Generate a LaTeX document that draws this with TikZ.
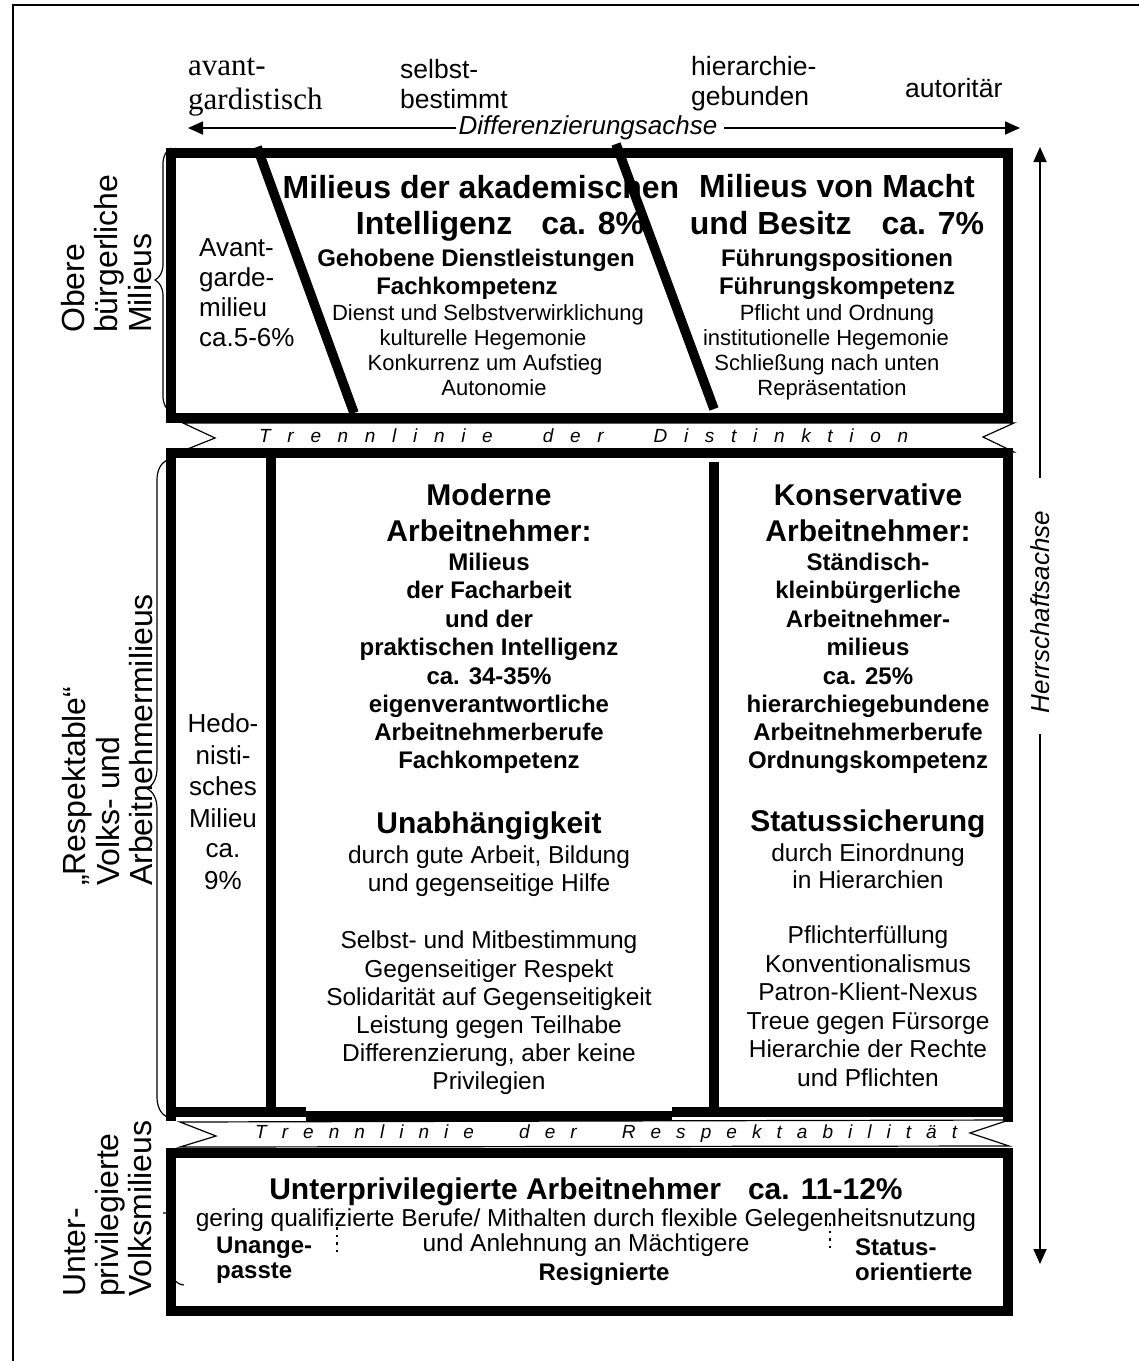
\documentclass[tikz,border=0pt]{standalone}
\usepackage{fontspec}
\setmainfont{Liberation Sans}
\newfontfamily\serifhead{Liberation Serif}
\usetikzlibrary{arrows.meta,decorations.pathreplacing}
\newcommand\setfs[2]{\fontsize{#1pt}{#2pt}\selectfont}
\begin{document}
\begin{tikzpicture}[x=1pt,y=-1pt,
  every node/.style={inner sep=0pt},
  thickb/.style={line width=9.5pt},
  thinl/.style={line width=1.2pt},
  axis/.style={line width=1.8pt, -{Triangle[length=15pt,width=13pt]}},
  bracestyle/.style={line width=1.2pt, decorate},
  T32/.style={anchor=base, font=\bfseries\setfs{32}{36}},
  B30/.style={anchor=base, font=\bfseries\setfs{30}{34}},
  B24/.style={anchor=base, font=\bfseries\setfs{24}{28}},
  B24w/.style={anchor=base west, font=\bfseries\setfs{24}{28}},
  N22/.style={anchor=base, font=\setfs{22}{25}},
  N245/.style={anchor=base, font=\setfs{24.5}{28}},
  N26/.style={anchor=base, font=\setfs{26}{30}},
  N26w/.style={anchor=base west, font=\setfs{26}{30}},
  H27/.style={anchor=base west, font=\setfs{26.5}{28}},
  S32/.style={anchor=base west, font=\serifhead\setfs{31}{32}},
  L32/.style={anchor=base west, rotate=90, font=\setfs{32}{34}},
  BT/.style={anchor=base west, font=\itshape\setfs{19}{22}},
  AX/.style={font=\itshape\setfs{26}{30}, inner xsep=2pt},
  dotsv/.style={line width=2.6pt, dash pattern=on 2.6pt off 5pt},
]
\useasboundingbox (0,0) rectangle (1139,1361);
% outer frame
\draw[line width=1.5pt] (13,1361) -- (13,5) -- (1139,5);

% header words
\node[S32] (ha1) at (188,75) {avant-};
\node[S32] (ha2) at (188,109) {gardistisch};
\node[H27] (hs1) at (400,78) {selbst-};
\node[H27] (hs2) at (400,108) {bestimmt};
\node[H27] (hh1) at (691,75) {hierarchie-};
\node[H27] (hh2) at (691,105) {gebunden};
\node[H27] (hau) at (905,97) {autorit\"ar};

% Differenzierungsachse
\coordinate (dl) at (188,128);
\coordinate (dr) at (1020,128);
\node[AX] (dach) at (588,128) {Differenzierungsachse};
\draw[axis] (dach.west |- dl) -- (dl);
\draw[axis] ([xshift=4pt]dach.east |- dr) -- (dr);

% Herrschaftsachse
\coordinate (ht) at (1040,147);
\coordinate (hb) at (1040,1264);
\coordinate (hg1) at (1040,478);
\coordinate (hg2) at (1040,734);
\node[AX, rotate=90] (hach) at (1040,612) {Herrschaftsachse};
\draw[axis] (hg1) -- (ht);
\draw[axis] (hg2) -- (hb);

% bands
\draw[thinl] (183,423) -- (1014,423) -- (983,437) -- (1014,452) -- (180,452) -- (215,438) -- cycle;
\draw[thinl] (180,1122) -- (1009,1120) -- (970,1133) -- (1009,1146) -- (180,1147) -- (216,1136) -- cycle;
\node[BT] (band1) at (259,442) {\hbox to 649pt{T\hfill r\hfill e\hfill n\hfill n\hfill l\hfill i\hfill n\hfill i\hfill e\hfill\hfill\hfill d\hfill e\hfill r\hfill\hfill\hfill D\hfill i\hfill s\hfill t\hfill i\hfill n\hfill k\hfill t\hfill i\hfill o\hfill n}};
\node[BT] (band2) at (255,1138) {\hbox to 702pt{T\hfill r\hfill e\hfill n\hfill n\hfill l\hfill i\hfill n\hfill i\hfill e\hfill\hfill\hfill d\hfill e\hfill r\hfill\hfill\hfill R\hfill e\hfill s\hfill p\hfill e\hfill k\hfill t\hfill a\hfill b\hfill i\hfill l\hfill i\hfill t\hfill \"a\hfill t}};

% braces
\draw[bracestyle, decoration={brace, amplitude=16pt}] (171,412) -- (171,148);
\draw[bracestyle, decoration={brace, amplitude=20pt}] (167,1117) -- (167,460);
\draw[line width=1.2pt] (184,1285) .. controls (176,1284) and (173,1280) .. (173,1272) -- (173,1222) .. controls (173,1215) and (169,1212) .. (163,1213);

% upper box
\draw[thickb] (171,153) rectangle (1008,418);
% middle box
\draw[thickb] (171,1121) -- (171,453) -- (1008,453) -- (1008,1122);
\draw[thickb] (171,1112) -- (306,1112);
\draw[thickb] (306,1116) -- (672,1116);
\draw[thickb] (672,1112) -- (1008,1112);
\draw[thickb] (271,453) -- (271,1112);
\draw[thickb] (714,462) -- (714,1112);
% lower box
\draw[thickb] (171,1153) rectangle (1008,1311);

% side labels
\node[L32] (lo1) at (84,333) {Obere};
\node[L32] (lo2) at (117,333) {b\"urgerliche};
\node[L32] (lo3) at (151,333) {Milieus};
\node[L32] (lr1) at (85,886) {\char"201E Respektable\char"201C};
\node[L32] (lr2) at (119,886) {Volks- und};
\node[L32] (lr3) at (152,886) {Arbeitnehmermilieus};
\node[L32] (lu1) at (85,1297) {Unter-};
\node[L32] (lu2) at (118,1297) {privilegierte};
\node[L32] (lu3) at (151,1297) {Volksmilieus};

% upper box texts
\node[N26w] (av1) at (199,256) {Avant-};
\node[N26w] (av2) at (199,286) {garde-};
\node[N26w] (av3) at (199,316) {milieu};
\node[N26w] (av4) at (199,346) {ca.5-6\%};

\node[T32] (ua1) at (481,198) {Milieus der akademischen};
\node[T32] (ua2) at (500,234) {Intelligenz\hspace{29pt}ca. 8\%};
\node[B24] (ua3) at (476,266) {Gehobene Dienstleistungen};
\node[B24] (ua4) at (467,294) {Fachkompetenz};
\node[N22] (ua5) at (488,320) {Dienst und Selbstverwirklichung};
\node[N22] (ua6) at (483,345) {kulturelle Hegemonie};
\node[N22] (ua7) at (485,370) {Konkurrenz um Aufstieg};
\node[N22] (ua8) at (494,395) {Autonomie};

\node[T32] (ub1) at (837,197) {Milieus von Macht};
\node[T32] (ub2) at (837,234) {und Besitz\hspace{30pt}ca. 7\%};
\node[B24] (ub3) at (837,266) {F\"uhrungspositionen};
\node[B24] (ub4) at (837,294) {F\"uhrungskompetenz};
\node[N22] (ub5) at (837,320) {Pflicht und Ordnung};
\node[N22] (ub6) at (826,345) {institutionelle Hegemonie};
\node[N22] (ub7) at (827,370) {Schlie\ss ung nach unten};
\node[N22] (ub8) at (832,395) {Repr\"asentation};

% slanted separators
\draw[thickb] (257,147) -- (354,413);
\draw[thickb] (616,144) -- (714,409);

% hedonist column
\node[N26] (he1) at (223,732) {Hedo-};
\node[N26] (he2) at (223,764) {nisti-};
\node[N26] (he3) at (223,795) {sches};
\node[N26] (he4) at (223,827) {Milieu};
\node[N26] (he5) at (223,857) {ca.};
\node[N26] (he6) at (223,889) {9\%};

% middle column
\node[B30] (mo1) at (489,505) {Moderne};
\node[B30] (mo2) at (489,541) {Arbeitnehmer:};
\node[B24] (mo3) at (489,570) {Milieus};
\node[B24] (mo4) at (489,598) {der Facharbeit};
\node[B24] (mo5) at (489,627) {und der};
\node[B24] (mo6) at (489,655) {praktischen Intelligenz};
\node[B24] (mo7) at (489,684) {ca. 34-35\%};
\node[B24] (mo8) at (489,712) {eigenverantwortliche};
\node[B24] (mo9) at (489,740) {Arbeitnehmerberufe};
\node[B24] (mo10) at (489,768) {Fachkompetenz};
\node[B30] (mo11) at (489,833) {Unabh\"angigkeit};
\node[N245] (mo12) at (489,863) {durch gute Arbeit, Bildung};
\node[N245] (mo13) at (489,891) {und gegenseitige Hilfe};
\node[N245] (mo14) at (489,948) {Selbst- und Mitbestimmung};
\node[N245] (mo15) at (489,977) {Gegenseitiger Respekt};
\node[N245] (mo16) at (489,1005) {Solidarit\"at auf Gegenseitigkeit};
\node[N245] (mo17) at (489,1033) {Leistung gegen Teilhabe};
\node[N245] (mo18) at (489,1061) {Differenzierung, aber keine};
\node[N245] (mo19) at (489,1089) {Privilegien};

% right column
\node[B30] (ko1) at (868,505) {Konservative};
\node[B30] (ko2) at (868,541) {Arbeitnehmer:};
\node[B24] (ko3) at (868,570) {St\"andisch-};
\node[B24] (ko4) at (868,598) {kleinb\"urgerliche};
\node[B24] (ko5) at (868,627) {Arbeitnehmer-};
\node[B24] (ko6) at (868,655) {milieus};
\node[B24] (ko7) at (868,684) {ca. 25\%};
\node[B24] (ko8) at (868,712) {hierarchiegebundene};
\node[B24] (ko9) at (868,740) {Arbeitnehmerberufe};
\node[B24] (ko10) at (868,768) {Ordnungskompetenz};
\node[B30] (ko11) at (868,831) {Statussicherung};
\node[N245] (ko12) at (868,861) {durch Einordnung};
\node[N245] (ko13) at (868,888) {in Hierarchien};
\node[N245] (ko14) at (868,943) {Pflichterf\"ullung};
\node[N245] (ko15) at (868,972) {Konventionalismus};
\node[N245] (ko16) at (868,1000) {Patron-Klient-Nexus};
\node[N245] (ko17) at (868,1029) {Treue gegen F\"ursorge};
\node[N245] (ko18) at (868,1057) {Hierarchie der Rechte};
\node[N245] (ko19) at (868,1086) {und Pflichten};

% lower box
\node[B30] (lw1) at (586,1199) {Unterprivilegierte Arbeitnehmer\hspace{27pt}ca. 11-12\%};
\node[N245] (lw2) at (586,1226) {gering qualifizierte Berufe/ Mithalten durch flexible Gelegenheitsnutzung};
\node[N245] (lw3) at (586,1251) {und Anlehnung an M\"achtigere};
\node[B24w] (lw4) at (216,1253) {Unange-};
\node[B24w] (lw5) at (216,1278) {passte};
\node[B24] (lw6) at (604,1280) {Resignierte};
\node[B24w] (lw7) at (855,1255) {Status-};
\node[B24w] (lw8) at (855,1280) {orientierte};
\draw[dotsv] (337,1227) -- (337,1252);
\draw[dotsv] (830,1223) -- (830,1248);
\end{tikzpicture}
\end{document}
